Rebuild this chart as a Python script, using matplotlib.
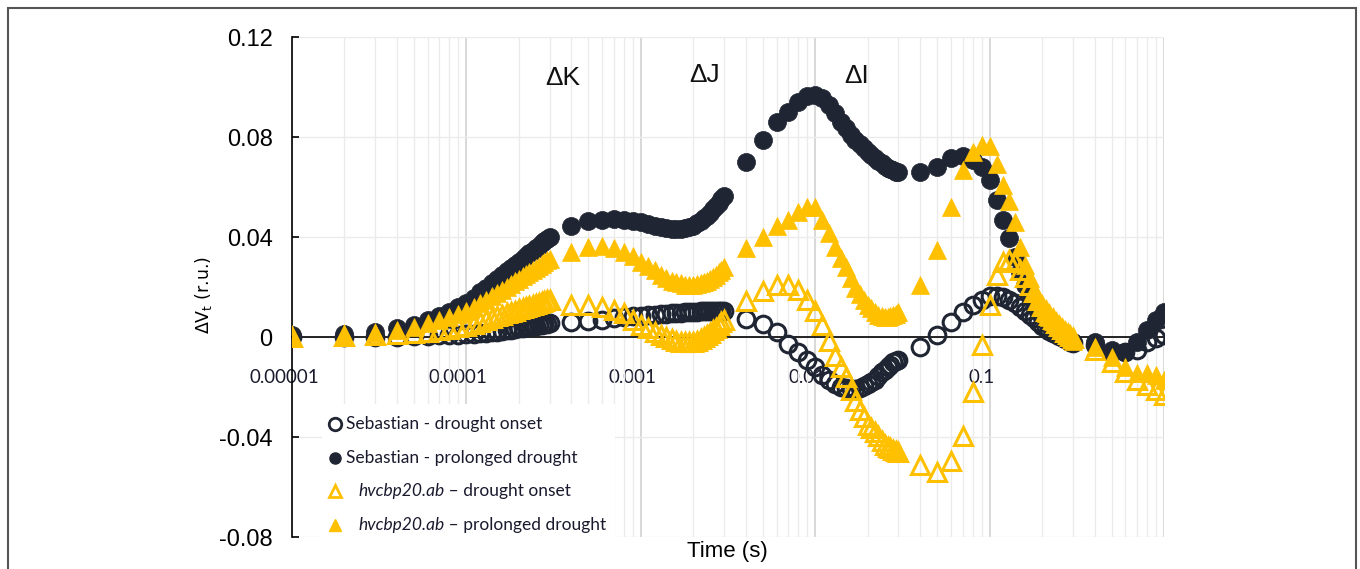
"""
Delta V(t) curves (OJIP difference kinetics) for two genotypes under drought.
"""

import matplotlib

matplotlib.use("Agg")
import matplotlib.pyplot as plt
import matplotlib.transforms as mtransforms
import numpy as np
from matplotlib.lines import Line2D
from matplotlib.patches import Rectangle
from matplotlib.ticker import FixedLocator, LogLocator, NullFormatter

# Sampling times of the fluorimeter, in microseconds
TIME_US = [
    10, 20, 30, 40, 50, 60, 70, 80, 90, 100,
    110, 120, 130, 140, 150, 160, 170, 180, 190, 200,
    210, 220, 230, 240, 250, 260, 270, 280, 290, 300,
    400, 500, 600, 700, 800, 900, 1000, 1100, 1200, 1300,
    1400, 1500, 1600, 1700, 1800, 1900, 2000, 2100, 2200, 2300,
    2400, 2500, 2600, 2700, 2800, 2900, 3000,
    4000, 5000, 6000, 7000, 8000, 9000, 10000, 11000, 12000, 13000,
    14000, 15000, 16000, 17000, 18000, 19000, 20000, 21000, 22000, 23000,
    24000, 25000, 26000, 27000, 28000, 29000, 30000,
    40000, 50000, 60000, 70000, 80000, 90000, 100000, 110000, 120000, 130000,
    140000, 150000, 160000, 170000, 180000, 190000, 200000, 210000, 220000, 230000,
    240000, 250000, 260000, 270000, 280000, 290000, 300000,
    400000, 500000, 600000, 700000, 800000, 900000, 1000000,
]

# Sebastian - drought onset (open circles)
SEB_ONSET = [
    0.0, 0.0, 0.0, 0.0001, 0.0003, 0.0005, 0.0007, 0.0009, 0.001, 0.0012,
    0.0014, 0.0016, 0.0018, 0.002, 0.0022, 0.0025, 0.0027, 0.003, 0.0032, 0.0035,
    0.0037, 0.004, 0.0042, 0.0044, 0.0046, 0.0048, 0.005, 0.0052, 0.0054, 0.0056,
    0.006, 0.0065, 0.007, 0.0075, 0.008, 0.0083, 0.0086, 0.0088, 0.009, 0.0092,
    0.0094, 0.0095, 0.0097, 0.0098, 0.0099, 0.010, 0.0101, 0.0102, 0.0103, 0.0104,
    0.0104, 0.0105, 0.0105, 0.0105, 0.0104, 0.0104, 0.0103,
    0.0072, 0.0052, 0.002, -0.0026, -0.0058, -0.009, -0.012, -0.015, -0.017, -0.0188,
    -0.020, -0.0205, -0.0208, -0.0206, -0.0202, -0.0196, -0.0188, -0.018, -0.017, -0.0155,
    -0.014, -0.013, -0.012, -0.011, -0.010, -0.0095, -0.009,
    -0.004, 0.001, 0.006, 0.010, 0.013, 0.015, 0.0165, 0.0165, 0.016, 0.015,
    0.0135, 0.012, 0.0105, 0.009, 0.0075, 0.006, 0.0045, 0.0035, 0.0025, 0.0018,
    0.0012, 0.0006, 0.0, -0.0006, -0.0012, -0.0018, -0.0024,
    -0.003, -0.006, -0.006, -0.005, -0.002, -0.0005, 0.001,
]

# Sebastian - prolonged drought (filled circles)
SEB_PROLONGED = [
    0.001, 0.0012, 0.002, 0.0035, 0.005, 0.007, 0.0085, 0.010, 0.012, 0.0135,
    0.0158, 0.0179, 0.0198, 0.0216, 0.0233, 0.0248, 0.0263, 0.0277, 0.029, 0.0302,
    0.0314, 0.0325, 0.0336, 0.0346, 0.0356, 0.0366, 0.0375, 0.0383, 0.0392, 0.040,
    0.0444, 0.0464, 0.0470, 0.0472, 0.0470, 0.0466, 0.0460, 0.0453, 0.0446, 0.0440,
    0.0435, 0.0432, 0.0431, 0.0432, 0.0435, 0.0440, 0.0446, 0.0455, 0.0465, 0.0475,
    0.0486, 0.0498, 0.0511, 0.0524, 0.0538, 0.0552, 0.0566,
    0.070, 0.079, 0.086, 0.090, 0.094, 0.0965, 0.097, 0.0955, 0.093, 0.0895,
    0.086, 0.0835, 0.081, 0.0788, 0.0772, 0.0755, 0.074, 0.0728, 0.0716, 0.0705,
    0.0695, 0.0686, 0.0678, 0.0671, 0.0666, 0.0662, 0.066,
    0.066, 0.068, 0.0715, 0.0725, 0.071, 0.068, 0.063, 0.055, 0.047, 0.0395,
    0.032, 0.026, 0.021, 0.0165, 0.013, 0.010, 0.008, 0.0065, 0.005, 0.0038,
    0.0028, 0.0018, 0.0008, 0.0, -0.0008, -0.0015, -0.002,
    -0.002, -0.005, -0.006, -0.002, 0.003, 0.007, 0.010,
]

# hvcbp20.ab - drought onset (open triangles)
HV_ONSET = [
    0.0, 0.0003, 0.0007, 0.0011, 0.0016, 0.0021, 0.0027, 0.0033, 0.0039, 0.0045,
    0.0054, 0.0062, 0.007, 0.0077, 0.0084, 0.009, 0.0096, 0.0101, 0.0106, 0.0111,
    0.0116, 0.012, 0.0125, 0.0129, 0.0133, 0.0136, 0.014, 0.0143, 0.0147, 0.015,
    0.013, 0.013, 0.012, 0.011, 0.0095, 0.007, 0.005, 0.0035, 0.0022, 0.001,
    0.0, -0.0008, -0.0014, -0.0018, -0.002, -0.002, -0.0018, -0.0014, -0.0008, 0.0,
    0.0008, 0.0017, 0.0027, 0.0038, 0.005, 0.006, 0.007,
    0.0144, 0.0184, 0.021, 0.021, 0.019, 0.015, 0.0105, 0.005, -0.0015, -0.0075,
    -0.012, -0.016, -0.021, -0.0255, -0.029, -0.032, -0.035, -0.0365, -0.038, -0.0397,
    -0.0415, -0.043, -0.0438, -0.0445, -0.0452, -0.0457, -0.046,
    -0.051, -0.054, -0.0496, -0.0396, -0.022, -0.003, 0.013, 0.025, 0.030, 0.031,
    0.030, 0.027, 0.024, 0.021, 0.018, 0.015, 0.0125, 0.0105, 0.0088, 0.0072,
    0.0058, 0.0045, 0.0033, 0.0022, 0.0012, 0.0003, -0.0005,
    -0.005, -0.010, -0.014, -0.017, -0.019, -0.021, -0.023,
]

# hvcbp20.ab - prolonged drought (filled triangles)
HV_PROLONGED = [
    0.0003, 0.0005, 0.0015, 0.003, 0.004, 0.0055, 0.0068, 0.008, 0.0092, 0.0105,
    0.012, 0.0135, 0.015, 0.0163, 0.0176, 0.0188, 0.020, 0.0212, 0.0223, 0.0233,
    0.0243, 0.0252, 0.0261, 0.027, 0.0278, 0.0286, 0.0293, 0.030, 0.0307, 0.0314,
    0.034, 0.036, 0.0365, 0.0355, 0.034, 0.0325, 0.030, 0.0285, 0.027, 0.025,
    0.0235, 0.0225, 0.022, 0.0215, 0.021, 0.021, 0.021, 0.0212, 0.0216, 0.022,
    0.0226, 0.0233, 0.0241, 0.025, 0.026, 0.027, 0.028,
    0.0355, 0.040, 0.0444, 0.047, 0.050, 0.052, 0.052, 0.047, 0.0415, 0.036,
    0.0315, 0.028, 0.0235, 0.0195, 0.0172, 0.015, 0.013, 0.0115, 0.0102, 0.009,
    0.0083, 0.008, 0.008, 0.0083, 0.0088, 0.0094, 0.010,
    0.021, 0.035, 0.052, 0.067, 0.074, 0.077, 0.0765, 0.069, 0.061, 0.0545,
    0.046, 0.036, 0.029, 0.0235, 0.018, 0.015, 0.012, 0.0098, 0.008, 0.0065,
    0.0052, 0.004, 0.003, 0.0018, 0.001, 0.0, -0.0015,
    -0.004, -0.008, -0.012, -0.0145, -0.0145, -0.015, -0.017,
]

X_TICKS = [1e-5, 1e-4, 1e-3, 1e-2, 1e-1, 1]
X_TICK_LABELS = ["0.00001", "0.0001", "0.001", "0.01", "0.1", "1"]
Y_TICKS = [-0.08, -0.04, 0, 0.04, 0.08, 0.12]
Y_TICK_LABELS = ["-0.08", "-0.04", "0", "0.04", "0.08", "0.12"]

# Phase labels: (time, value, text)
PHASES = [(3.56e-4, 0.1036, "\u0394K"), (2.33e-3, 0.105, "\u0394J"), (1.72e-2, 0.1044, "\u0394I")]

# Legend rows: (italic part, plain part)
LEGEND_LABELS = [
    ("", "Sebastian - drought onset"),
    ("", "Sebastian - prolonged drought"),
    ("hvcbp20.ab", " \u2013 drought onset"),
    ("hvcbp20.ab", " \u2013 prolonged drought"),
]

NAVY = "#1f2532"
GOLD = "#FFC000"
TEXT_DARK = "#1a1a2e"
W, H = 1360, 569


def fxy(px, py):
    """Pixel position (from top-left) to figure fraction."""
    return px / W, 1 - py / H


t = np.array(TIME_US) * 1e-6

fig = plt.figure(figsize=(W / 100, H / 100), dpi=100)
ax = fig.add_axes([292 / W, 1 - 537 / H, (1164 - 292) / W, 500 / H])
ax.set_xscale("log")
ax.set_xlim(1e-5, 1)
ax.set_ylim(-0.08, 0.12)

# grid: decades a bit darker than the minor lines
ax.xaxis.set_minor_locator(LogLocator(base=10, subs=range(2, 10), numticks=20))
ax.xaxis.set_minor_formatter(NullFormatter())
ax.grid(which="major", axis="x", color="#d6d6d6", linewidth=1.3, zorder=0)
ax.grid(which="minor", axis="x", color="#ebebeb", linewidth=1.0, zorder=0)
ax.grid(which="major", axis="y", color="#ebebeb", linewidth=1.0, zorder=0)
ax.set_axisbelow(True)

for side in ("top", "right"):
    ax.spines[side].set_visible(False)
ax.spines["left"].set_color("black")
ax.spines["left"].set_linewidth(1.2)
ax.spines["bottom"].set_position(("data", 0))
ax.spines["bottom"].set_color("black")
ax.spines["bottom"].set_linewidth(1.2)

ax.xaxis.set_major_locator(FixedLocator(X_TICKS))
ax.set_xticklabels(X_TICK_LABELS, fontfamily="Lato", fontsize=13.5, color=TEXT_DARK)
ax.tick_params(axis="x", which="both", length=0, pad=23)
xlabels = ax.get_xticklabels()
for i, lab in enumerate(xlabels):
    dx = -16 if i == len(xlabels) - 1 else -8
    shift = mtransforms.ScaledTranslation(dx / 100, 0, fig.dpi_scale_trans)
    lab.set_transform(lab.get_transform() + shift)

ax.set_yticks(Y_TICKS)
ax.set_yticklabels(Y_TICK_LABELS, fontfamily="Liberation Sans", fontsize=17)
ax.tick_params(axis="y", direction="in", length=5, width=1.2, pad=14)

styles = [
    dict(marker="o", ms=12, mfc="none", mec=NAVY, mew=2.2),
    dict(marker="o", ms=13, mfc=NAVY, mec=NAVY, mew=0.5),
    dict(marker="^", ms=12.5, mfc="none", mec=GOLD, mew=2.2),
    dict(marker="^", ms=12.5, mfc=GOLD, mec=GOLD, mew=0.5),
]
for k, (series, st) in enumerate(zip([SEB_ONSET, SEB_PROLONGED, HV_ONSET, HV_PROLONGED], styles)):
    ax.plot(t, series, ls="none", zorder=3 + k, **st)

for x, y, txt in PHASES:
    ax.text(x, y, txt, ha="center", va="center", fontsize=19,
            fontfamily="Liberation Sans", color="#111111")

# Hand-made legend: white box, markers and (partly italic) labels
fig.add_artist(Rectangle(fxy(322, 540), (615 - 322) / W, (540 - 404) / H,
                         transform=fig.transFigure, facecolor="white",
                         edgecolor="none", zorder=5))
legend_rows_y = [424, 458, 491, 525]
legend_marker = [
    dict(marker="o", ms=9, mfc="none", mec=NAVY, mew=2),
    dict(marker="o", ms=8, mfc=NAVY, mec=NAVY),
    dict(marker="^", ms=9, mfc="none", mec=GOLD, mew=2),
    dict(marker="^", ms=8.5, mfc=GOLD, mec=GOLD),
]
fig.canvas.draw()
renderer = fig.canvas.get_renderer()
for (ital, plain), ry, mk in zip(LEGEND_LABELS, legend_rows_y, legend_marker):
    mx, my = fxy(335, ry)
    fig.add_artist(Line2D([mx], [my], ls="none", transform=fig.transFigure, zorder=6, **mk))
    if ital:
        tx, ty = fxy(358, ry)
        it = fig.text(tx, ty, ital, style="italic", fontfamily="Lato", fontsize=12.5,
                      color=TEXT_DARK, va="center", ha="left", zorder=6)
        x_end = it.get_window_extent(renderer).x1
        fig.text(x_end / W, ty, plain, fontfamily="Lato", fontsize=12.5,
                 color=TEXT_DARK, va="center", ha="left", zorder=6)
    else:
        tx, ty = fxy(346, ry)
        fig.text(tx, ty, plain, fontfamily="Lato", fontsize=12.5,
                 color=TEXT_DARK, va="center", ha="left", zorder=6)

fig.text(*fxy(203, 295), "\u0394V$_\\mathrm{t}$ (r.u.)", rotation=90,
         ha="center", va="center", fontsize=12.5, fontfamily="DejaVu Sans")
fig.text(*fxy(727, 552), "Time (s)", ha="center", va="center",
         fontsize=16, fontfamily="Liberation Sans")

# thin frame round the whole panel (bottom edge falls outside the picture)
fig.add_artist(Rectangle((8 / W, -0.05), (1356 - 8) / W, 1.05 - 8 / H,
                         transform=fig.transFigure, fill=False,
                         edgecolor="#555555", linewidth=1.5, zorder=10))

fig.savefig("out.png", dpi=100)
